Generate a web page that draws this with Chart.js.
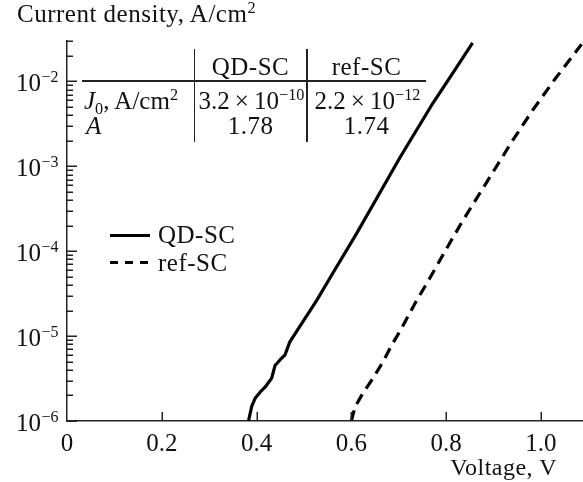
<!DOCTYPE html>
<html><head><meta charset="utf-8">
<script src="https://cdn.jsdelivr.net/npm/chart.js@4"></script>
<style>
html,body{margin:0;padding:0;background:#fff;}
#wrap{position:relative;width:583px;height:482px;overflow:hidden;font-family:"Liberation Serif","Times New Roman",serif;color:#111;background:#fff;}
canvas{position:absolute;left:0;top:0;}
.txt{position:absolute;white-space:nowrap;font-size:25px;line-height:25px;letter-spacing:0.5px;}
.sup{font-size:65%;position:relative;top:-0.55em;line-height:0;letter-spacing:0;}
.sub{font-size:65%;position:relative;top:0.3em;line-height:0;}
.rule{position:absolute;background:#222;}
.ctr{transform:translateX(-50%);}
.tight{letter-spacing:0;}
</style></head>
<body><div id="wrap"><canvas id="chart" width="583" height="482"></canvas></div>
<script>
// ---------- data ----------
const seriesNames = ['QD-SC', 'ref-SC'];
const voltageQD = [0.383, 0.390, 0.397, 0.408, 0.418, 0.432, 0.439, 0.449, 0.460, 0.470, 0.490, 0.513, 0.527, 0.560, 0.611, 0.660, 0.703, 0.773, 0.810, 0.856];
const currentQD = [1.0e-6, 1.5e-6, 1.85e-6, 2.2e-6, 2.5e-6, 3.2e-6, 4.5e-6, 5.2e-6, 6.0e-6, 8.5e-6, 1.27e-5, 2.0e-5, 2.64e-5, 5.4e-5, 1.61e-4, 4.85e-4, 1.28e-3, 5.65e-3, 1.16e-2, 2.85e-2];
const voltageRef = [0.600, 0.608, 0.625, 0.646, 0.667, 0.685, 0.703, 0.738, 0.759, 0.800, 0.829, 0.857, 0.892, 0.940, 0.984, 1.030, 1.086];
const currentRef = [1.0e-6, 1.47e-6, 2.15e-6, 3.2e-6, 5.0e-6, 7.8e-6, 1.15e-5, 2.64e-5, 4.15e-5, 1.05e-4, 2.0e-4, 3.6e-4, 7.4e-4, 2.0e-3, 4.7e-3, 1.07e-2, 2.74e-2];
const xTickValues = [0, 0.2, 0.4, 0.6, 0.8, 1.0];
const xTickLabels = ['0', '0.2', '0.4', '0.6', '0.8', '1.0'];
const yDecades = [-6, -5, -4, -3, -2];
const yMinorMultipliers = [2, 3, 4, 5, 6, 7, 8, 9];
const tableColumns = ['QD-SC', 'ref-SC'];
const tableJ0Mantissa = ['3.2', '2.2'];
const tableJ0Exponent = ['\u221210', '\u221212'];
const tableIdeality = ['1.78', '1.74'];
const yTitle = 'Current density, A/cm';
const xTitle = 'Voltage, V';

// ---------- chart ----------
const FONT = '"Liberation Serif", "Times New Roman", serif';
const INK = '#111';

const axisDecor = {
  id: 'axisDecor',
  afterDraw(chart) {
    const {ctx, scales: {x, y}, chartArea: a} = chart;
    ctx.save();
    // tick marks (inward)
    ctx.strokeStyle = '#222';
    ctx.lineWidth = 1.5;
    ctx.beginPath();
    yDecades.forEach(d => {
      [1].concat(yMinorMultipliers).forEach(m => {
        const v = m * Math.pow(10, d);
        if (v > y.max * 1.0001) return;
        const py = Math.round(y.getPixelForValue(v)) + 0.25;
        const len = m === 1 ? 10 : 6;
        ctx.moveTo(a.left, py);
        ctx.lineTo(a.left + len, py);
      });
    });
    xTickValues.forEach(v => {
      if (v === 0) return;
      const px = Math.round(x.getPixelForValue(v)) + 0.25;
      ctx.moveTo(px, a.bottom);
      ctx.lineTo(px, a.bottom - 9);
    });
    ctx.stroke();
    // y labels: 10 with superscript exponent
    ctx.fillStyle = INK;
    ctx.textBaseline = 'alphabetic';
    yDecades.forEach(d => {
      const py = y.getPixelForValue(Math.pow(10, d));
      ctx.font = '25px ' + FONT;
      ctx.textAlign = 'right';
      ctx.fillText('10', 41, py + 10);
      ctx.font = '16px ' + FONT;
      ctx.textAlign = 'left';
      ctx.fillText((d < 0 ? '\u2212' : '') + Math.abs(d), 41.5, py + 1);
    });
    ctx.restore();
  }
};

const toPts = (xs, ys) => xs.map((v, i) => ({x: v, y: ys[i]}));

new Chart(document.getElementById('chart'), {
  type: 'line',
  data: {
    datasets: [
      {label: seriesNames[0], data: toPts(voltageQD, currentQD), borderColor: '#000', borderWidth: 3.2, pointRadius: 0, tension: 0, borderJoinStyle: 'round', fill: false},
      {label: seriesNames[1], data: toPts(voltageRef, currentRef), borderColor: '#000', borderWidth: 3.2, borderDash: [11, 7], pointRadius: 0, tension: 0, fill: false}
    ]
  },
  options: {
    responsive: false,
    animation: false,
    layout: {padding: {top: 41, left: 0, right: 0, bottom: 0}},
    plugins: {legend: {display: false}, tooltip: {enabled: false}, title: {display: false}},
    scales: {
      x: {
        type: 'linear', min: 0, max: 1.089,
        afterBuildTicks: s => { s.ticks = xTickValues.map(v => ({value: v})); },
        afterFit: s => { s.height = 61; },
        grid: {display: true, drawOnChartArea: false, drawTicks: false},
        border: {display: true, color: '#222', width: 1.5},
        ticks: {
          autoSkip: false, maxRotation: 0, padding: 8, color: INK,
          font: {family: FONT, size: 25},
          callback: v => xTickLabels[xTickValues.indexOf(v)] ?? ''
        }
      },
      y: {
        type: 'logarithmic', min: 1e-6, max: 0.03,
        afterBuildTicks: s => { s.ticks = yDecades.map(d => ({value: Math.pow(10, d)})); },
        afterFit: s => { s.width = 67; },
        grid: {display: true, drawOnChartArea: false, drawTicks: false},
        border: {display: true, color: '#222', width: 1.5},
        ticks: {display: false}
      }
    }
  },
  plugins: [axisDecor]
});

// ---------- text overlays ----------
const wrap = document.getElementById('wrap');
function addText(html, css, cls) {
  const el = document.createElement('div');
  el.className = 'txt' + (cls ? ' ' + cls : '');
  el.innerHTML = html;
  Object.assign(el.style, css);
  wrap.appendChild(el);
  return el;
}
function addRule(l, t, w, h) {
  const el = document.createElement('div');
  el.className = 'rule';
  Object.assign(el.style, {left: l + 'px', top: t + 'px', width: w + 'px', height: h + 'px'});
  wrap.appendChild(el);
}
addText(yTitle + '<span class="sup">2</span>', {left: '17px', top: '1px'});
addText(xTitle, {right: '26px', top: '455px', fontSize: '24px', lineHeight: '24px'});

// table
const colCenters = [250.5, 366.5];
addRule(82, 80, 344, 1.5);
addRule(193.5, 49, 1.5, 93);
addRule(306, 49, 1.5, 93);
tableColumns.forEach((c, i) => addText(c, {left: colCenters[i] + 'px', top: '54px'}, 'ctr'));
addText('<i>J</i><span class="sub">0</span>, A/cm<span class="sup">2</span>', {left: '84px', top: '88px'}, 'tight');
tableJ0Mantissa.forEach((m, i) => addText(m + '\u2009\u00D7\u200910<span class="sup">' + tableJ0Exponent[i] + '</span>', {left: (colCenters[i] + 1) + 'px', top: '88px'}, 'ctr tight'));
addText('<i>A</i>', {left: '86px', top: '113px'});
tableIdeality.forEach((a, i) => addText(a, {left: colCenters[i] + 'px', top: '113px'}, 'ctr'));

// legend
const leg1 = document.createElement('div');
Object.assign(leg1.style, {position: 'absolute', left: '110px', top: '233.5px', width: '40px', height: '3px', background: '#000'});
wrap.appendChild(leg1);
const leg2 = document.createElement('div');
Object.assign(leg2.style, {position: 'absolute', left: '110px', top: '260.5px', width: '40px', height: '3px', background: 'repeating-linear-gradient(to right, #000 0 8px, transparent 8px 15px)'});
wrap.appendChild(leg2);
addText(seriesNames[0], {left: '158px', top: '222px'});
addText(seriesNames[1], {left: '158px', top: '250px'});
</script>
</body></html>
